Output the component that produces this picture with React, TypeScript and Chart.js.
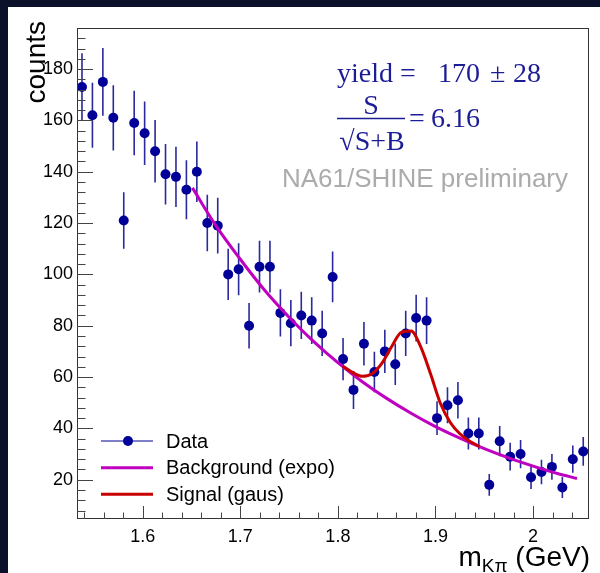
import React, { useEffect, useRef } from "react";
import { Chart, registerables } from "chart.js";

Chart.register(...registerables);

// ---------- data ----------
const massBins = [
  1.5378, 1.5485, 1.5592, 1.5699, 1.5806, 1.5913, 1.602, 1.6127, 1.6234, 1.6341,
  1.6448, 1.6555, 1.6662, 1.6769, 1.6876, 1.6983, 1.709, 1.7197, 1.7304, 1.7411,
  1.7518, 1.7625, 1.7732, 1.7839, 1.7946, 1.8053, 1.816, 1.8267, 1.8374, 1.8481,
  1.8588, 1.8695, 1.8802, 1.8909, 1.9016, 1.9123, 1.923, 1.9337, 1.9444, 1.9551,
  1.9658, 1.9765, 1.9872, 1.9979, 2.0086, 2.0193, 2.03, 2.0407, 2.0514,
];
const counts = [
  173, 162, 175, 161, 121, 159, 155, 148, 139, 138,
  133, 140, 120, 119, 100, 102, 80, 103, 103, 85,
  81, 84, 82, 77, 99, 67, 55, 73, 62, 70,
  65, 77, 83, 82, 44, 49, 51, 38, 38, 18,
  35, 29, 30, 21, 23, 25, 17, 28, 31,
];
const countErrors = [
  13.2, 12.7, 13.2, 12.7, 11.0, 12.6, 12.4, 12.2, 11.8, 11.7,
  11.5, 11.8, 11.0, 10.9, 10.0, 10.1, 8.9, 10.1, 10.1, 9.2,
  9.0, 9.2, 9.1, 8.8, 9.9, 8.2, 7.4, 8.5, 7.9, 8.4,
  8.1, 8.8, 9.1, 9.1, 6.6, 7.0, 7.1, 6.2, 6.2, 4.2,
  5.9, 5.4, 5.5, 4.6, 4.8, 5.0, 4.1, 5.3, 5.6,
];
const bgX = [1.651, 1.675, 1.7, 1.725, 1.75, 1.775, 1.8, 1.825, 1.85, 1.875, 1.9, 1.925, 1.95, 1.975, 2.0, 2.025, 2.045];
const bgY = [133.7, 119.0, 105.9, 93.8, 83.3, 73.9, 65.6, 58.2, 51.7, 45.9, 40.7, 36.2, 32.1, 28.5, 25.3, 22.4, 20.5];
const sigX = [1.805, 1.815, 1.825, 1.835, 1.845, 1.855, 1.865, 1.875, 1.885, 1.895, 1.905, 1.915, 1.925, 1.935, 1.945];
const sigY = [64.3, 61.8, 60.3, 61.3, 65.3, 71.8, 77.4, 77.9, 71.7, 61.2, 49.8, 42.4, 37.9, 35.0, 33.0];

const xTickValues = [1.6, 1.7, 1.8, 1.9, 2.0];
const xTickLabels = ["1.6", "1.7", "1.8", "1.9", "2"];
const yTickValues = [20, 40, 60, 80, 100, 120, 140, 160, 180];
const legendLabels = ["Data", "Background (expo)", "Signal (gaus)"];
const yieldValue = "170";
const yieldError = "28";
const significance = "6.16";

// ---------- styling ----------
const X_MIN = 1.5327;
const X_MAX = 2.0573;
const Y_MIN = 4.7;
const Y_MAX = 196;
const NAVY = "#000099";
const MAG = "#c000c0";
const RED = "#c80000";
const SANS = "'Liberation Sans', Arial, Helvetica, sans-serif";
const SERIF = "'Liberation Serif', 'Times New Roman', serif";

const rootPlugin = {
  id: "rootStyle",
  beforeDraw(chart: any) {
    const ctx = chart.ctx;
    ctx.save();
    ctx.fillStyle = "#0b112a";
    ctx.fillRect(0, 0, chart.width, chart.height);
    ctx.fillStyle = "#ffffff";
    ctx.fillRect(8, 7, chart.width - 8, chart.height - 7);
    ctx.restore();
  },
  beforeDatasetsDraw(chart: any) {
    const ctx = chart.ctx;
    const xs = chart.scales.x;
    const ys = chart.scales.y;
    ctx.save();
    ctx.strokeStyle = "#2a2a9c";
    ctx.lineWidth = 1.6;
    ctx.beginPath();
    for (let i = 0; i < massBins.length; i++) {
      const px = xs.getPixelForValue(massBins[i]);
      ctx.moveTo(px, ys.getPixelForValue(counts[i] - countErrors[i]));
      ctx.lineTo(px, ys.getPixelForValue(counts[i] + countErrors[i]));
    }
    ctx.stroke();
    ctx.restore();
  },
  afterDraw(chart: any) {
    const ctx = chart.ctx;
    const xs = chart.scales.x;
    const ys = chart.scales.y;
    const a = chart.chartArea;
    ctx.save();

    // frame
    ctx.strokeStyle = "#333";
    ctx.lineWidth = 1;
    ctx.strokeRect(a.left + 0.5, a.top + 0.5, a.right - a.left - 1, a.bottom - a.top - 1);

    // ticks (inward)
    ctx.strokeStyle = "#444";
    ctx.beginPath();
    for (let v = 1.54; v < X_MAX; v += 0.02) {
      const px = Math.round(xs.getPixelForValue(v)) + 0.5;
      const major = xTickValues.some((t) => Math.abs(t - v) < 1e-6);
      ctx.moveTo(px, a.bottom);
      ctx.lineTo(px, a.bottom - (major ? 13 : 6.5));
    }
    for (let v = 8; v < Y_MAX; v += 4) {
      const py = Math.round(ys.getPixelForValue(v)) + 0.5;
      const major = yTickValues.includes(v);
      ctx.moveTo(a.left, py);
      ctx.lineTo(a.left + (major ? 16 : 8.5), py);
    }
    ctx.stroke();

    // y title
    ctx.save();
    ctx.translate(45, 21);
    ctx.rotate(-Math.PI / 2);
    ctx.fillStyle = "#000";
    ctx.font = `28px ${SANS}`;
    ctx.textAlign = "right";
    ctx.textBaseline = "alphabetic";
    ctx.fillText("counts", 0, 0);
    ctx.restore();

    // x title m_{Kπ} (GeV)
    ctx.fillStyle = "#000";
    ctx.textBaseline = "alphabetic";
    ctx.textAlign = "left";
    ctx.font = `28px ${SANS}`;
    const wM = ctx.measureText("m").width;
    const wRest = ctx.measureText(" (GeV)").width;
    ctx.font = `19px ${SANS}`;
    const wSub = ctx.measureText("Kπ").width;
    let tx = 590 - (wM + wSub + wRest);
    ctx.font = `28px ${SANS}`;
    ctx.fillText("m", tx, 566);
    tx += wM;
    ctx.font = `19px ${SANS}`;
    ctx.fillText("Kπ", tx, 572);
    tx += wSub;
    ctx.font = `28px ${SANS}`;
    ctx.fillText(" (GeV)", tx, 566);

    // preliminary label
    ctx.fillStyle = "#ababab";
    ctx.font = `26px ${SANS}`;
    ctx.textAlign = "right";
    ctx.fillText("NA61/SHINE preliminary", 568, 187);

    // yield & significance
    ctx.fillStyle = "#1c1c96";
    ctx.font = `28px ${SERIF}`;
    ctx.textAlign = "left";
    ctx.fillText("yield =", 337, 82);
    ctx.fillText(yieldValue, 438, 82);
    ctx.fillText("±", 490, 82);
    ctx.textAlign = "right";
    ctx.fillText(yieldError, 541, 82);
    ctx.textAlign = "center";
    ctx.fillText("S", 371, 114);
    ctx.fillText("√S+B", 372, 150);
    ctx.strokeStyle = "#1c1c96";
    ctx.lineWidth = 1.5;
    ctx.beginPath();
    ctx.moveTo(337, 118.5);
    ctx.lineTo(405, 118.5);
    ctx.stroke();
    ctx.textAlign = "left";
    ctx.fillText("=", 409, 127);
    ctx.fillText(significance, 431, 127);

    // legend
    const rows = [441, 467.7, 494.3];
    ctx.lineWidth = 1.2;
    ctx.strokeStyle = NAVY;
    ctx.beginPath();
    ctx.moveTo(101, rows[0]);
    ctx.lineTo(153, rows[0]);
    ctx.stroke();
    ctx.fillStyle = NAVY;
    ctx.beginPath();
    ctx.arc(128, rows[0], 5, 0, Math.PI * 2);
    ctx.fill();
    ctx.lineWidth = 3;
    ctx.strokeStyle = MAG;
    ctx.beginPath();
    ctx.moveTo(101, rows[1]);
    ctx.lineTo(153, rows[1]);
    ctx.stroke();
    ctx.strokeStyle = RED;
    ctx.beginPath();
    ctx.moveTo(101, rows[2]);
    ctx.lineTo(153, rows[2]);
    ctx.stroke();
    ctx.fillStyle = "#000";
    ctx.font = `20px ${SANS}`;
    ctx.textAlign = "left";
    ctx.textBaseline = "alphabetic";
    legendLabels.forEach((l, i) => ctx.fillText(l, 166, rows[i] + 6.5));

    ctx.restore();
  },
};

export default function App() {
  const ref = useRef<HTMLCanvasElement>(null);
  useEffect(() => {
    const canvas = ref.current;
    if (!canvas) return;
    const chart = new Chart(canvas, {
      type: "scatter",
      data: {
        datasets: [
          {
            label: legendLabels[0],
            data: massBins.map((m, i) => ({ x: m, y: counts[i] })),
            pointRadius: 5,
            pointHoverRadius: 5,
            backgroundColor: NAVY,
            borderColor: NAVY,
            borderWidth: 0,
            showLine: false,
            order: 3,
          },
          {
            type: "line",
            label: legendLabels[1],
            data: bgX.map((m, i) => ({ x: m, y: bgY[i] })),
            borderColor: MAG,
            borderWidth: 3,
            pointRadius: 0,
            showLine: true,
            fill: false,
            cubicInterpolationMode: "monotone",
            order: 2,
          },
          {
            type: "line",
            label: legendLabels[2],
            data: sigX.map((m, i) => ({ x: m, y: sigY[i] })),
            borderColor: RED,
            borderWidth: 3,
            pointRadius: 0,
            showLine: true,
            fill: false,
            cubicInterpolationMode: "monotone",
            order: 1,
          },
        ],
      } as any,
      options: {
        responsive: false,
        animation: false,
        devicePixelRatio: 1,
        layout: { padding: { top: 28, right: 11, left: 0, bottom: 0 } },
        plugins: { legend: { display: false }, tooltip: { enabled: false } },
        scales: {
          x: {
            type: "linear",
            min: X_MIN,
            max: X_MAX,
            afterBuildTicks: (s: any) => {
              s.ticks = xTickValues.map((v) => ({ value: v }));
            },
            afterFit: (s: any) => {
              s.height = 54;
            },
            grid: { display: false, drawTicks: false },
            border: { display: false },
            ticks: {
              padding: 7,
              color: "#000",
              font: { family: SANS, size: 18 },
              maxRotation: 0,
              autoSkip: false,
              callback: (v: any) => {
                const i = xTickValues.findIndex((t) => Math.abs(t - Number(v)) < 1e-6);
                return i >= 0 ? xTickLabels[i] : "";
              },
            },
          },
          y: {
            type: "linear",
            min: Y_MIN,
            max: Y_MAX,
            afterBuildTicks: (s: any) => {
              s.ticks = yTickValues.map((v) => ({ value: v }));
            },
            afterFit: (s: any) => {
              s.width = 77;
            },
            grid: { display: false, drawTicks: false },
            border: { display: false },
            ticks: {
              padding: 4,
              color: "#000",
              font: { family: SANS, size: 18 },
              autoSkip: false,
              callback: (v: any) => String(v),
            },
          },
        },
      } as any,
      plugins: [rootPlugin as any],
    });
    return () => chart.destroy();
  }, []);
  return (
    <canvas
      ref={ref}
      width={600}
      height={573}
      style={{ position: "fixed", left: 0, top: 0, width: 600, height: 573, display: "block" }}
    />
  );
}
